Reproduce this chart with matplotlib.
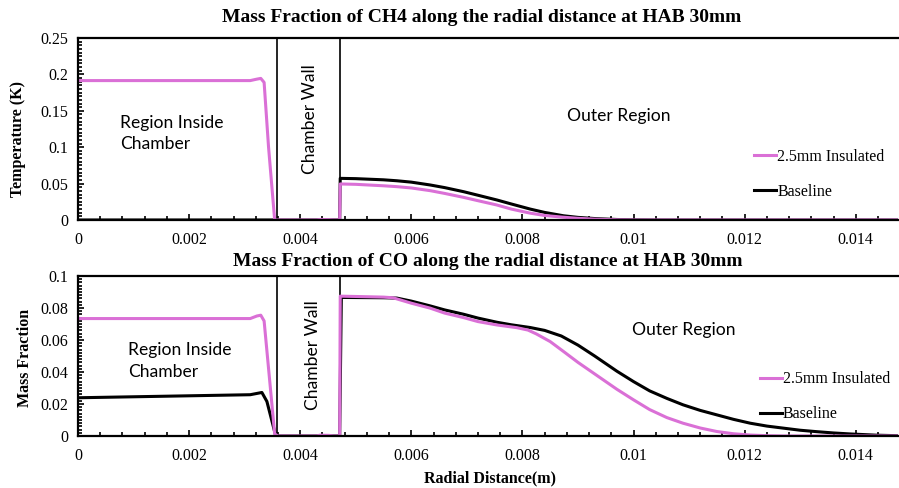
import numpy as np
import matplotlib.pyplot as plt
from matplotlib.ticker import MultipleLocator, FuncFormatter

# CH4 mass fraction vs radial distance (m)
r_ch4_ins = [0, 0.0031, 0.00322, 0.00329, 0.00335, 0.00343, 0.00354, 0.0043, 0.00435, 0.00452, 0.0046,
             0.00471, 0.00472, 0.0050, 0.0055, 0.00574, 0.0060, 0.00634, 0.0066, 0.00694, 0.0072, 0.00754,
             0.0078, 0.00814, 0.0084, 0.00874, 0.0090, 0.00934, 0.0097, 0.0100, 0.01475]
ch4_ins = [0.1915, 0.1915, 0.1935, 0.1945, 0.189, 0.1, 0, 0, 0.0007, 0.0005, 0,
           0, 0.0495, 0.0490, 0.0470, 0.0458, 0.0440, 0.0403, 0.0365, 0.0311, 0.0265, 0.0206,
           0.0150, 0.0094, 0.0062, 0.0038, 0.0023, 0.0010, 0.0003, 0, 0]

r_ch4_base = [0, 0.00471, 0.00472, 0.0050, 0.0055, 0.00574, 0.0060, 0.00634, 0.0066, 0.00694, 0.0072,
              0.00754, 0.0078, 0.00814, 0.0084, 0.00874, 0.0090, 0.00934, 0.0097, 0.0100, 0.0105, 0.01475]
ch4_base = [0, 0, 0.0572, 0.0568, 0.0552, 0.0539, 0.0520, 0.0481, 0.0445, 0.0389, 0.0340,
            0.0275, 0.0220, 0.0150, 0.0104, 0.0058, 0.0036, 0.0018, 0.0007, 0.0002, 0, 0]

# CO mass fraction vs radial distance (m)
r_co_ins = [0, 0.0031, 0.00322, 0.00329, 0.00335, 0.00354, 0.0036, 0.0043, 0.00435, 0.00452, 0.0046,
            0.00471, 0.00472, 0.0050, 0.0055, 0.00567, 0.0060, 0.00634, 0.0066, 0.00694, 0.0072, 0.00754,
            0.0079, 0.0081, 0.00825, 0.0085, 0.00874, 0.0090, 0.0093, 0.0097, 0.0100, 0.01029, 0.0106,
            0.01089, 0.0112, 0.0115, 0.0118, 0.0121, 0.0124, 0.0127, 0.01475]
co_ins = [0.0734, 0.0734, 0.0750, 0.0755, 0.0719, 0.0013, 0, 0, 0.0005, 0.0004, 0,
          0, 0.0874, 0.0872, 0.0868, 0.0864, 0.0830, 0.0799, 0.0768, 0.0740, 0.0715, 0.0694,
          0.0677, 0.0662, 0.0638, 0.0590, 0.0528, 0.0460, 0.0388, 0.0292, 0.0226, 0.0165, 0.0115,
          0.0080, 0.0050, 0.0028, 0.0014, 0.0006, 0.0002, 0, 0]

r_co_base = [0, 0.0031, 0.00322, 0.00331, 0.0034, 0.00355, 0.0036, 0.00471, 0.00474, 0.0055, 0.00574,
             0.0060, 0.00634, 0.0066, 0.00694, 0.0072, 0.00754, 0.0078, 0.00814, 0.0084, 0.0087, 0.0090,
             0.0093, 0.0097, 0.0100, 0.01029, 0.0106, 0.01089, 0.0112, 0.0115, 0.0118, 0.0121, 0.0124,
             0.0127, 0.0130, 0.0133, 0.0136, 0.01389, 0.01438, 0.01475]
co_base = [0.0239, 0.0258, 0.0266, 0.0272, 0.0216, 0.0013, 0, 0, 0.0866, 0.0864, 0.0862,
           0.0843, 0.0813, 0.0788, 0.0761, 0.0737, 0.0711, 0.0695, 0.0678, 0.0660, 0.0625, 0.0568,
           0.0500, 0.0405, 0.0340, 0.0282, 0.0235, 0.0195, 0.0160, 0.0132, 0.0104, 0.0080, 0.0062,
           0.0049, 0.0036, 0.0027, 0.0019, 0.0013, 0.0005, 0.0002]

wall_in = 0.00358
wall_out = 0.00471

pink = '#DA70D6'
serif = 'Liberation Serif'
sans = 'Lato'

fig = plt.figure(figsize=(8.99, 4.88), dpi=100)
ax1 = fig.add_axes([78/899, 1 - 220/488, 820/899, 182/488])
ax2 = fig.add_axes([78/899, 1 - 436/488, 820/899, 160/488])

def style(ax, ymax, ymaj, ymin):
    ax.set_xlim(0, 0.01476)
    ax.set_ylim(0, ymax)
    ax.spines['right'].set_visible(False)
    for s in ['top', 'bottom', 'left']:
        ax.spines[s].set_linewidth(1.6)
    ax.xaxis.set_major_locator(MultipleLocator(0.002))
    ax.xaxis.set_minor_locator(MultipleLocator(0.0004))
    ax.yaxis.set_major_locator(MultipleLocator(ymaj))
    ax.yaxis.set_minor_locator(MultipleLocator(ymin))
    fmt = FuncFormatter(lambda v, p: '%g' % round(v, 6))
    ax.xaxis.set_major_formatter(fmt)
    ax.yaxis.set_major_formatter(fmt)
    ax.tick_params(which='both', direction='in', top=False, right=False, width=1.2)
    ax.tick_params(which='major', length=4.5, labelsize=11.5, pad=7)
    ax.tick_params(axis='x', which='major', pad=9)
    ax.tick_params(which='minor', length=3)
    for lab in ax.get_xticklabels() + ax.get_yticklabels():
        lab.set_fontfamily(serif)
    ax.axvline(wall_in, color='black', lw=1.2, zorder=1)
    ax.axvline(wall_out, color='black', lw=1.2, zorder=1)

style(ax1, 0.25, 0.05, 0.005)
style(ax2, 0.1, 0.02, 0.002)

# top: CH4
l1, = ax1.plot(r_ch4_base, ch4_base, color='black', lw=2.2)
l2, = ax1.plot(r_ch4_ins, ch4_ins, color=pink, lw=2.2)
ax1.legend([l2, l1], ['2.5mm Insulated', 'Baseline'], frameon=False, loc='center left',
           bbox_to_anchor=(0.807, 0.25), handlelength=1.4, handletextpad=0.05, labelspacing=1.2,
           prop={'family': serif, 'size': 11.5})

# bottom: CO
l3, = ax2.plot(r_co_base, co_base, color='black', lw=2.2)
l4, = ax2.plot(r_co_ins, co_ins, color=pink, lw=2.2)
ax2.legend([l4, l3], ['2.5mm Insulated', 'Baseline'], frameon=False, loc='center left',
           bbox_to_anchor=(0.814, 0.245), handlelength=1.4, handletextpad=0.05, labelspacing=1.2,
           prop={'family': serif, 'size': 11.5})

# region annotations, placed in figure pixels
H = 488
def ftext(x, y, s, **kw):
    fig.text(x/899, 1 - y/H, s, **kw)

ftext(120, 123, 'Region Inside', fontsize=12.6, fontfamily=sans, ha='left', va='center')
ftext(120, 144, 'Chamber', fontsize=12.6, fontfamily=sans, ha='left', va='center')
ftext(310, 119, 'Chamber Wall', fontsize=12.6, fontfamily=sans, rotation=90, ha='center', va='center')
ftext(619, 116, 'Outer Region', fontsize=12.6, fontfamily=sans, ha='center', va='center')
ftext(128, 350, 'Region Inside', fontsize=12.6, fontfamily=sans, ha='left', va='center')
ftext(128, 372, 'Chamber', fontsize=12.6, fontfamily=sans, ha='left', va='center')
ftext(313, 355, 'Chamber Wall', fontsize=12.6, fontfamily=sans, rotation=90, ha='center', va='center')
ftext(684, 330, 'Outer Region', fontsize=12.6, fontfamily=sans, ha='center', va='center')

ftext(482, 17, 'Mass Fraction of CH4 along the radial distance at HAB 30mm', fontsize=14,
      fontfamily=serif, fontweight='bold', ha='center', va='center')
ftext(488, 262, 'Mass Fraction of CO along the radial distance at HAB 30mm', fontsize=14,
      fontfamily=serif, fontweight='bold', ha='center', va='center')
ftext(18, 139, 'Temperature (K)', fontsize=11.5, fontfamily=serif, fontweight='bold',
      rotation=90, ha='center', va='center')
ftext(25, 358, 'Mass Fraction', fontsize=11.5, fontfamily=serif, fontweight='bold',
      rotation=90, ha='center', va='center')
ftext(490, 478, 'Radial Distance(m)', fontsize=11.5, fontfamily=serif, fontweight='bold',
      ha='center', va='center')

fig.savefig('out.png', dpi=100)
